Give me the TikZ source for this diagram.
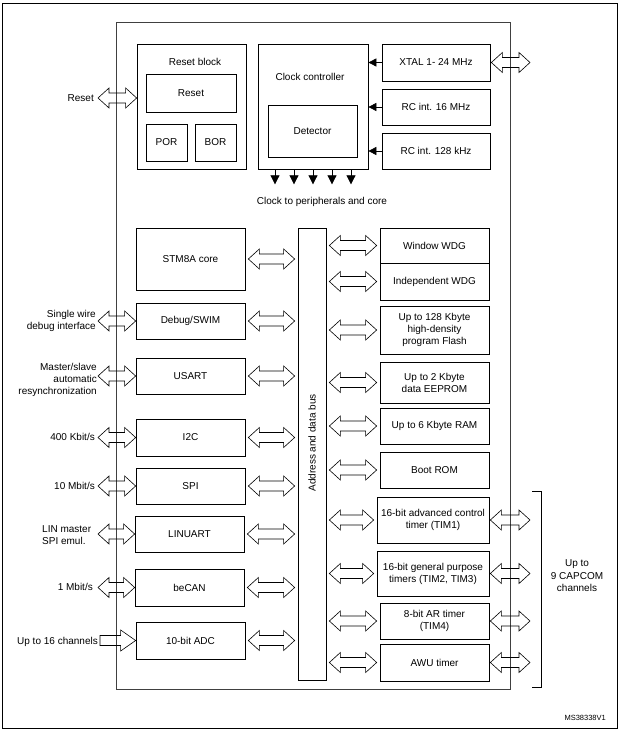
\documentclass[tikz,border=0pt]{standalone}
\usepackage{fontspec}
\setmainfont{Liberation Sans}
\usetikzlibrary{calc,arrows.meta}

\tikzset{
  blk/.style={draw, line width=0.7pt, inner sep=0pt, align=center},
  txt/.style={inner sep=0pt, align=center},
  arrow gap/.store in=\ag, arrow gap=3pt,
  wide arrow/.style={draw, line width=0.6pt, to path={
    let \p1=(\tikztostart), \p2=(\tikztotarget) in
    (\x1+\ag,\y1) -- (\x1+\ag+11pt,\y1+10pt) -- (\x1+\ag+11pt,\y1+5pt)
    -- (\x2-\ag-11pt,\y1+5pt) -- (\x2-\ag-11pt,\y1+10pt) -- (\x2-\ag,\y1)
    -- (\x2-\ag-11pt,\y1-10pt) -- (\x2-\ag-11pt,\y1-5pt)
    -- (\x1+\ag+11pt,\y1-5pt) -- (\x1+\ag+11pt,\y1-10pt) -- cycle}},
  wide single/.style={draw, line width=0.6pt, to path={
    let \p1=(\tikztostart), \p2=(\tikztotarget) in
    (\x1+\ag,\y1+5pt) -- (\x2-\ag-15pt,\y1+5pt) -- (\x2-\ag-15pt,\y1+10.5pt)
    -- (\x2-\ag,\y1) -- (\x2-\ag-15pt,\y1-10.5pt) -- (\x2-\ag-15pt,\y1-5pt)
    -- (\x1+\ag,\y1-5pt) -- cycle}},
  osc arrow/.style={-{Triangle[length=8pt,width=8pt]}, line width=0.7pt},
  clk arrow/.style={-{Triangle[length=9pt,width=9pt]}, line width=0.7pt},
}

\begin{document}
\begin{tikzpicture}[x=1pt, y=-1pt, font=\fontsize{10}{12}\selectfont]
\useasboundingbox (0,0) rectangle (620,733);

% Outer frame
\draw[line width=0.9pt] (2.5,3) rectangle (617,728.5);

% Chip outline
\draw[line width=0.8pt, black!75] (116,22) rectangle (510,689);

% Reset block
\node[blk, minimum width=109pt, minimum height=125pt] (rstblk) at (191.5,106.5) {};
\node[txt] (rsttitle) at (195,62) {Reset block};
\node[blk, minimum width=90pt, minimum height=38pt] (rst) at (191,93) {Reset};
\node[blk, minimum width=41pt, minimum height=37pt] (por) at (166.5,142.5) {POR};
\node[blk, minimum width=41pt, minimum height=37pt] (bor) at (215.5,142.5) {BOR};

% Clock controller
\node[blk, minimum width=110pt, minimum height=125pt] (clk) at (313,106.5) {};
\node[txt] (clktitle) at (310,77) {Clock controller};
\node[blk, minimum width=89pt, minimum height=52pt] (det) at (312.5,131) {Detector};

% Oscillators
\node[blk, minimum width=108pt, minimum height=37pt] (xtal) at (436,62.5) {XTAL 1- 24 MHz};
\node[blk, minimum width=108pt, minimum height=36pt] (rc16) at (436,107) {RC int. 16 MHz};
\node[blk, minimum width=108pt, minimum height=36pt] (rc128) at (436,151) {RC int. 128 kHz};
\foreach \osc in {xtal,rc16,rc128}
  \draw[osc arrow] (\osc.west) -- (clk.east |- \osc.west);

% Clock outputs
\foreach \dx in {-38,-19,0,19,38}
  \draw[clk arrow] ([xshift=\dx pt]clk.south) -- ++(0,15);
\node[txt] (clkout) at (322,202) {Clock to peripherals and core};

% Address and data bus
\node[blk, minimum width=28pt, minimum height=452pt] (bus) at (312,454) {};
\node[txt, rotate=90] (buslbl) at (312,443) {Address and data bus};

% Left column
\node[blk, minimum width=109pt, minimum height=62pt] (core) at (190.5,259) {STM8A core};
\node[blk, minimum width=109pt, minimum height=36pt] (dbg) at (190.5,321) {Debug/SWIM};
\node[blk, minimum width=109pt, minimum height=36pt] (usart) at (190.5,376) {USART};
\node[blk, minimum width=109pt, minimum height=37pt] (i2c) at (190.5,437.5) {I2C};
\node[blk, minimum width=109pt, minimum height=36pt] (spi) at (190.5,486) {SPI};
\node[blk, minimum width=109pt, minimum height=36pt] (lin) at (189.5,534) {LINUART};
\node[blk, minimum width=109pt, minimum height=37pt] (can) at (189.5,587.5) {beCAN};
\node[blk, minimum width=109pt, minimum height=37pt] (adc) at (190.5,640.5) {10-bit ADC};

% Right column
\node[blk, minimum width=109pt, minimum height=35pt] (wwdg) at (434.5,245.5) {Window WDG};
\node[blk, minimum width=109pt, minimum height=37pt] (iwdg) at (434.5,281.5) {Independent WDG};
\node[blk, minimum width=109pt, minimum height=48pt] (flash) at (434.5,330) {Up to 128 Kbyte\\high-density\\program Flash};
\node[blk, minimum width=109pt, minimum height=41pt] (eeprom) at (434.5,382.5) {Up to 2 Kbyte\\data EEPROM};
\node[blk, minimum width=109pt, minimum height=36pt] (ram) at (434.5,426) {Up to 6 Kbyte RAM};
\node[blk, minimum width=109pt, minimum height=36pt] (brom) at (434.5,470) {Boot ROM};
\node[blk, minimum width=112pt, minimum height=46pt] (tim1) at (433,520) {16-bit advanced control\\timer (TIM1)};
\node[blk, minimum width=112pt, minimum height=45pt] (tim2) at (433,573.5) {16-bit general purpose\\timers (TIM2, TIM3)};
\node[blk, minimum width=109pt, minimum height=36pt] (tim4) at (434.5,621) {8-bit AR timer\\(TIM4)};
\node[blk, minimum width=109pt, minimum height=37pt] (awu) at (434.5,662.5) {AWU timer};

% Bus connections
\foreach \blk in {core,dbg,usart,i2c,spi,lin,can,adc}
  \draw[wide arrow] (\blk.east) to (bus.west |- \blk.east);
\foreach \blk in {wwdg,iwdg,flash,eeprom,ram,brom,tim1,tim2,tim4,awu}
  \draw[wide arrow] (bus.east |- \blk.west) to (\blk.west);

% External pins
\coordinate (pinL) at (98,0);
\coordinate (pinR) at (531,0);
\node[txt, anchor=east] (rstlbl) at (94,98) {Reset};
\node[txt, anchor=east, align=right] (dbglbl) at (96,321) {Single wire\\debug interface};
\node[txt, anchor=east, align=right] (usartlbl) at (97,380) {Master/slave\\automatic\\resynchronization};
\node[txt, anchor=east] (i2clbl) at (95,437) {400 Kbit/s};
\node[txt, anchor=east] (spilbl) at (95,486) {10 Mbit/s};
\node[txt, anchor=west, align=left] (linlbl) at (42,535) {LIN master\\SPI emul.};
\node[txt, anchor=east] (canlbl) at (93,587) {1 Mbit/s};
\node[txt, anchor=east] (adclbl) at (98,642) {Up to 16 channels};

\draw[wide arrow, arrow gap=0pt] (pinL |- rstlbl) to (rstblk.west |- rstlbl);
\foreach \blk in {dbg,usart,i2c,spi,lin,can}
  \draw[wide arrow, arrow gap=0pt] (pinL |- \blk.west) to (\blk.west);
\draw[wide single, arrow gap=0pt] ([xshift=2pt]pinL |- adc.west) to (adc.west);

\draw[wide arrow, arrow gap=1pt] (xtal.east) to (pinR |- xtal.east);
\foreach \blk in {tim1,tim2,tim4,awu}
  \draw[wide arrow, arrow gap=1pt] (\blk.east) to (pinR |- \blk.east);

% CAPCOM bracket
\draw[line width=0.7pt] (532,491) -- (541,491) -- (541,687) -- (532,687);
\node[txt, font=\fontsize{10}{12.5}\selectfont] (capcom) at (577,576) {Up to\\9 CAPCOM\\channels};

% Figure reference
\node[txt, anchor=east, font=\fontsize{7.5}{9}\selectfont] (figref) at (606,718) {MS38338V1};
\end{tikzpicture}
\end{document}
